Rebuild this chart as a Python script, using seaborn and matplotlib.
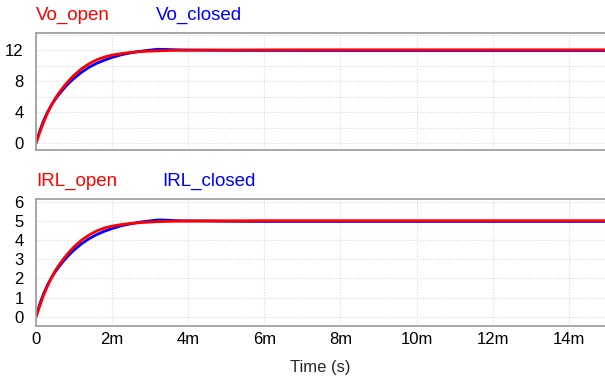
import matplotlib
matplotlib.use("Agg")
import matplotlib.pyplot as plt
import seaborn as sns
import pandas as pd
from matplotlib.ticker import MultipleLocator, FixedLocator

# time in ms
time_ms = [0, 0.1, 0.2, 0.3, 0.4, 0.5, 0.6, 0.7, 0.8, 0.9,
           1.0, 1.2, 1.4, 1.6, 1.8, 2.0, 2.25, 2.5, 2.75, 3.0,
           3.2, 3.4, 3.7, 4.0, 4.5, 5, 6, 8, 10, 12, 15]
vo_open = [0, 1.4, 2.7, 3.85, 4.85, 5.7, 6.45, 7.1, 7.7, 8.25,
           8.75, 9.6, 10.25, 10.75, 11.1, 11.35, 11.55, 11.7, 11.8, 11.86,
           11.9, 11.93, 11.96, 11.98, 12.0, 12.0, 12.02, 12.03, 12.03, 12.03, 12.03]
vo_closed = [0, 1.6, 2.9, 3.95, 4.85, 5.6, 6.25, 6.85, 7.4, 7.9,
             8.35, 9.15, 9.8, 10.3, 10.7, 11.05, 11.4, 11.65, 11.85, 12.0,
             12.1, 12.08, 12.03, 12.0, 11.98, 11.96, 11.95, 11.94, 11.94, 11.94, 11.94]
irl_open = [0, 0.58, 1.13, 1.6, 2.02, 2.38, 2.69, 2.96, 3.21, 3.44,
            3.65, 4.0, 4.27, 4.48, 4.63, 4.73, 4.81, 4.87, 4.91, 4.94,
            4.96, 4.97, 4.98, 4.99, 5.0, 5.0, 5.01, 5.01, 5.01, 5.01, 5.01]
irl_closed = [0, 0.67, 1.21, 1.65, 2.02, 2.33, 2.6, 2.85, 3.08, 3.29,
              3.48, 3.81, 4.08, 4.29, 4.46, 4.6, 4.75, 4.85, 4.94, 5.0,
              5.05, 5.04, 5.01, 5.0, 4.99, 4.98, 4.97, 4.97, 4.97, 4.97, 4.97]

x_ticks = [0, 2, 4, 6, 8, 10, 12, 14]
x_tick_labels = ["0", "2m", "4m", "6m", "8m", "10m", "12m", "14m"]
top_yticks = [0, 4, 8, 12]
bot_yticks = [0, 1, 2, 3, 4, 5, 6]

sns.set_style("white")
plt.rcParams["font.family"] = ["Liberation Sans", "DejaVu Sans"]

W, H = 605, 385
fig = plt.figure(figsize=(W / 100, H / 100), dpi=100)

def ax_rect(l, t, r, b):
    return [l / W, 1 - b / H, (r - l) / W, (b - t) / H]

ax1 = fig.add_axes(ax_rect(36, 33, 605, 150))
ax2 = fig.add_axes(ax_rect(36, 199, 605, 326))

RED = "#ff0000"
BLUE = "#0000ff"
GRAY = "#a0a0a0"
GRID = "#d9d9d9"

df = pd.DataFrame({"t": time_ms, "vo_open": vo_open, "vo_closed": vo_closed,
                   "irl_open": irl_open, "irl_closed": irl_closed})

LW = 2.0
sns.lineplot(data=df, x="t", y="vo_closed", ax=ax1, color=BLUE, lw=LW)
sns.lineplot(data=df, x="t", y="vo_open", ax=ax1, color=RED, lw=LW)
sns.lineplot(data=df, x="t", y="irl_closed", ax=ax2, color=BLUE, lw=LW)
sns.lineplot(data=df, x="t", y="irl_open", ax=ax2, color=RED, lw=LW)

for ax in (ax1, ax2):
    ax.set_xlim(0, 14.95)
    ax.xaxis.set_major_locator(FixedLocator(x_ticks))
    ax.set_xlabel("")
    ax.set_ylabel("")
    ax.spines["right"].set_visible(False)
    for s in ("top", "left", "bottom"):
        ax.spines[s].set_color(GRAY)
        ax.spines[s].set_linewidth(1.3)
    ax.tick_params(axis="both", which="both", length=0, labelsize=12, colors="black")
    ax.tick_params(axis="y", pad=9)
    ax.tick_params(axis="x", pad=4)
    ax.grid(True, which="both", color=GRID, linestyle=(0, (1, 1.5)), linewidth=0.8)
    ax.set_axisbelow(True)

ax1.set_ylim(-0.9, 14.2)
ax1.set_yticks(top_yticks)
ax1.yaxis.set_minor_locator(MultipleLocator(2))
ax1.set_xticklabels([])

ax2.set_ylim(-0.48, 6.14)
ax2.set_yticks(bot_yticks)
ax2.set_xticks(x_ticks)
ax2.set_xticklabels(x_tick_labels)
ax2.set_xlabel("Time (s)", fontsize=12, labelpad=10)

fs = 13.5
fig.text(36 / W, 1 - 15 / H, "Vo_open", color=RED, fontsize=fs, va="center", ha="left")
fig.text(156 / W, 1 - 15 / H, "Vo_closed", color=BLUE, fontsize=fs, va="center", ha="left")
fig.text(36 / W, 1 - 181 / H, "IRL_open", color=RED, fontsize=fs, va="center", ha="left")
fig.text(162.5 / W, 1 - 181 / H, "IRL_closed", color=BLUE, fontsize=fs, va="center", ha="left")

fig.savefig("out.png", dpi=100)
